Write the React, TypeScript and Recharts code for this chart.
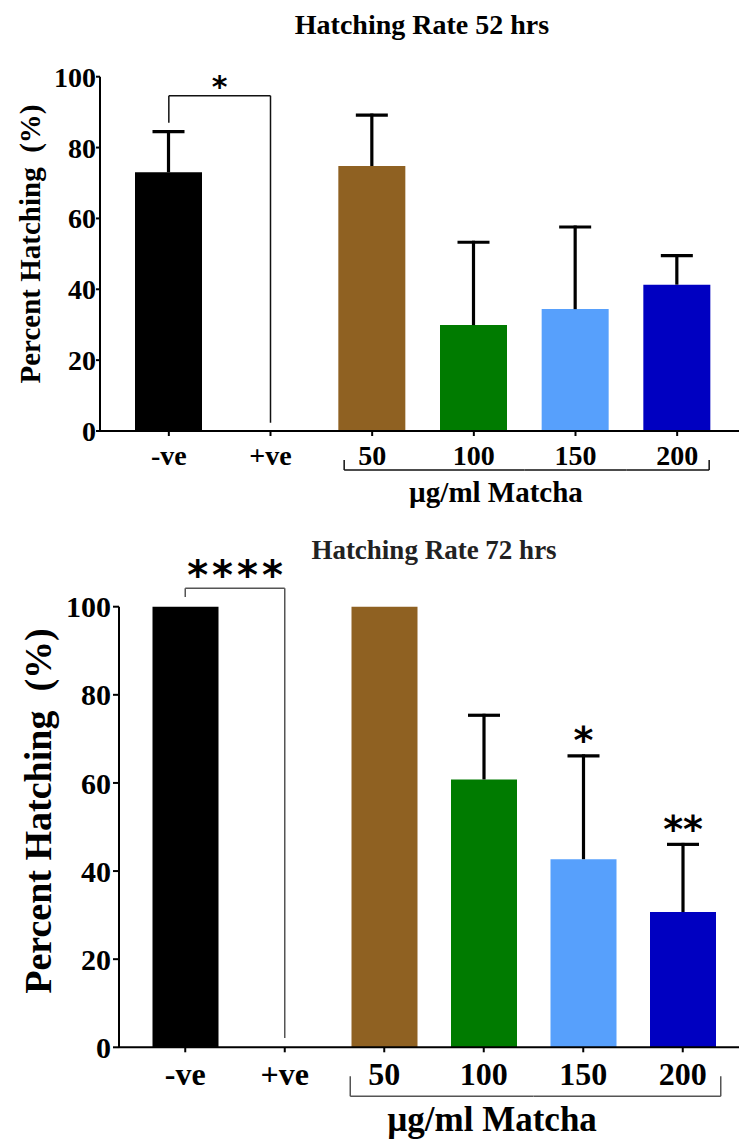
import { BarChart, Bar, XAxis, YAxis, Cell, ReferenceLine, LabelList } from 'recharts'

const categories = ['-ve', '+ve', '50', '100', '150', '200']
const barColors = ['#000000', '#ffffff', '#8f6122', '#007b00', '#57a0fc', '#0000c1']
const yTicks = [0, 20, 40, 60, 80, 100]

// 52 hrs
const mean52 = [73.0, 0, 74.8, 29.9, 34.4, 41.3]
const sd52 = [11.9, 0, 14.8, 23.8, 23.6, 8.6]
const sig52 = ['', '', '', '', '', '']
const bracket52 = [94.6, 87, 2.3] // top, -ve leg end, +ve leg end

// 72 hrs
const mean72 = [100, 0, 100, 60.8, 42.7, 30.7]
const sd72 = [0, 0, 0, 14.9, 23.8, 15.7]
const sig72 = ['', '', '', '', '*', '**']
const bracket72 = [104.2, 102.2, 2.1]

const serif = '"Liberation Serif", "Times New Roman", serif'
const starFont = '"DejaVu Sans", sans-serif'

function ErrorCap(props: any) {
  const { x, y, width, height, capHalf } = props
  if (!height || height <= 0) return <g />
  const cx = x + width / 2
  return (
    <g stroke="#000" strokeWidth={3.2}>
      <line x1={cx} x2={cx} y1={y} y2={y + height} />
      <line x1={cx - capHalf} x2={cx + capHalf} y1={y + 1.5} y2={y + 1.5} />
    </g>
  )
}

function CategoryTick(props: any) {
  const { x, y, payload, index, fontSize, band, groupLeft, groupRight, textDy, bracketDy, legDy, bracketColor } = props
  let bracket = null
  if (index >= 2) {
    const x1 = index === 2 ? x - groupLeft : x - band / 2
    const x2 = index === 5 ? x + groupRight : x + band / 2
    bracket = (
      <g stroke={bracketColor} strokeWidth={1.5} fill="none">
        <line x1={x1} x2={x2} y1={y + bracketDy} y2={y + bracketDy} />
        {index === 2 && <line x1={x1} x2={x1} y1={y + legDy} y2={y + bracketDy} />}
        {index === 5 && <line x1={x2} x2={x2} y1={y + legDy} y2={y + bracketDy} />}
      </g>
    )
  }
  return (
    <g>
      <text x={x} y={y + textDy} textAnchor="middle" fontFamily={serif} fontWeight="bold" fontSize={fontSize} fill="#000">
        {payload.value}
      </text>
      {bracket}
    </g>
  )
}

type ChartProps = {
  mean: number[]
  sd: number[]
  sig: string[]
  bracket: number[]
  bracketLabel: string
  starSize: number
  starSpacing: number
  bracketColor: string
  width: number
  height: number
  top: number
  bottom: number
  yAxisWidth: number
  xAxisHeight: number
  pad: { left: number; right: number }
  barSize: number
  yTickFont: number
  yTickSize: number
  yTickMargin: number
  xTickFont: number
  textDy: number
  bracketDy: number
  legDy: number
  groupLeft: number
  groupRight: number
  yLabelPos: [number, number]
  yLabelFont: number
  xLabelX: number
  xLabelDy: number
  xLabelFont: number
}

function HatchChart(p: ChartProps) {
  const data = categories.map((c, i) => ({ group: c, mean: p.mean[i], sd: p.sd[i], sig: p.sig[i] }))
  const band = (p.width - p.yAxisWidth - p.pad.left - p.pad.right) / categories.length

  const renderSig = (lp: any) => {
    if (!lp.value) return null
    return (
      <text x={lp.x + lp.width / 2} y={lp.y - 1} textAnchor="middle" fontFamily={starFont} fontWeight="bold" fontSize={38} fill="#000">
        {lp.value}
      </text>
    )
  }

  const bracketStar = (lp: any) => {
    const vb = lp.viewBox
    return (
      <text x={vb.x + vb.width / 2 + p.starSpacing / 2} y={vb.y + 1} textAnchor="middle" fontFamily={starFont} fontWeight="bold"
        fontSize={p.starSize} letterSpacing={p.starSpacing} fill="#000">
        {p.bracketLabel}
      </text>
    )
  }

  const yTitle = () => (
    <text transform={`translate(${p.yLabelPos[0]},${p.yLabelPos[1]}) rotate(-90)`} textAnchor="middle" dominantBaseline="central"
      fontFamily={serif} fontWeight="bold" fontSize={p.yLabelFont} fill="#000" style={{ whiteSpace: 'pre' }}>
      {'Percent Hatching  (%)'}
    </text>
  )

  const xTitle = (lp: any) => (
    <text x={p.xLabelX} y={lp.viewBox.y + p.xLabelDy} textAnchor="middle" fontFamily={serif} fontWeight="bold" fontSize={p.xLabelFont} fill="#000">
      µg/ml Matcha
    </text>
  )

  const [bTop, bLeft, bRight] = p.bracket
  return (
    <BarChart width={p.width} height={p.height} data={data} barSize={p.barSize}
      margin={{ top: p.top, right: 0, bottom: p.bottom, left: 0 }}>
      <YAxis type="number" domain={[0, 100]} ticks={yTicks} interval={0} width={p.yAxisWidth}
        axisLine={{ stroke: '#000', strokeWidth: 2 }} tickLine={{ stroke: '#000', strokeWidth: 2 }}
        tickSize={p.yTickSize} tickMargin={p.yTickMargin}
        tick={{ fill: '#000', fontSize: p.yTickFont, fontFamily: serif, fontWeight: 'bold' }}
        label={yTitle} />
      <XAxis dataKey="group" type="category" height={p.xAxisHeight} padding={p.pad} interval={0}
        axisLine={{ stroke: '#000', strokeWidth: 2 }} tickLine={{ stroke: '#000', strokeWidth: 2 }}
        tickSize={5} tickMargin={0}
        tick={<CategoryTick fontSize={p.xTickFont} band={band} groupLeft={p.groupLeft} groupRight={p.groupRight}
          textDy={p.textDy} bracketDy={p.bracketDy} legDy={p.legDy} bracketColor={p.bracketColor} />}
        label={xTitle} />
      <Bar dataKey="mean" stackId="s" isAnimationActive={false}>
        {data.map((d, i) => <Cell key={d.group} fill={barColors[i]} />)}
      </Bar>
      <Bar dataKey="sd" stackId="s" isAnimationActive={false} fill="none" shape={<ErrorCap capHalf={16} />}>
        <LabelList dataKey="sig" content={renderSig} />
      </Bar>
      <ReferenceLine ifOverflow="visible" stroke={p.bracketColor} strokeWidth={1.5}
        segment={[{ x: categories[0], y: bTop }, { x: categories[1], y: bTop }]} label={bracketStar} />
      <ReferenceLine ifOverflow="visible" stroke={p.bracketColor} strokeWidth={1.5}
        segment={[{ x: categories[0], y: bTop }, { x: categories[0], y: bLeft }]} />
      <ReferenceLine ifOverflow="visible" stroke={p.bracketColor} strokeWidth={1.5}
        segment={[{ x: categories[1], y: bTop }, { x: categories[1], y: bRight }]} />
    </BarChart>
  )
}

export default function App() {
  return (
    <div style={{ position: 'absolute', left: 0, top: 0, width: 739, height: 1140, background: '#fff' }}>
      <svg width={739} height={1140} style={{ position: 'absolute', left: 0, top: 0, pointerEvents: 'none' }}>
        <text x={422} y={34} textAnchor="middle" fontFamily={serif} fontWeight="bold" fontSize={28} fill="#000">
          Hatching Rate 52 hrs
        </text>
        <text x={434} y={559} textAnchor="middle" fontFamily={serif} fontWeight="bold" fontSize={27} fill="#222">
          Hatching Rate 72 hrs
        </text>
      </svg>
      <div style={{ position: 'absolute', left: 0, top: 0 }}>
        <HatchChart mean={mean52} sd={sd52} sig={sig52} bracket={bracket52} bracketLabel="*"
          starSize={30} starSpacing={0} bracketColor="#111"
          width={739} height={540} top={76.7} bottom={9} yAxisWidth={100} xAxisHeight={100}
          pad={{ left: 18, right: 11 }} barSize={67}
          yTickFont={28} yTickSize={4} yTickMargin={0}
          xTickFont={28} textDy={29} bracketDy={34} legDy={24} groupLeft={28} groupRight={32}
          yLabelPos={[30, 244]} yLabelFont={29}
          xLabelX={496} xLabelDy={71} xLabelFont={29} />
      </div>
      <div style={{ position: 'absolute', left: 0, top: 540 }}>
        <HatchChart mean={mean72} sd={sd72} sig={sig72} bracket={bracket72} bracketLabel="****"
          starSize={40} starSpacing={4} bracketColor="#555"
          width={739} height={600} top={66.7} bottom={2.7} yAxisWidth={119} xAxisHeight={90}
          pad={{ left: 16.5, right: 6.5 }} barSize={66}
          yTickFont={30} yTickSize={6} yTickMargin={2}
          xTickFont={32} textDy={33} bracketDy={44} legDy={24} groupLeft={34} groupRight={38}
          yLabelPos={[38, 271]} yLabelFont={38}
          xLabelX={492} xLabelDy={83.5} xLabelFont={35} />
      </div>
    </div>
  )
}
